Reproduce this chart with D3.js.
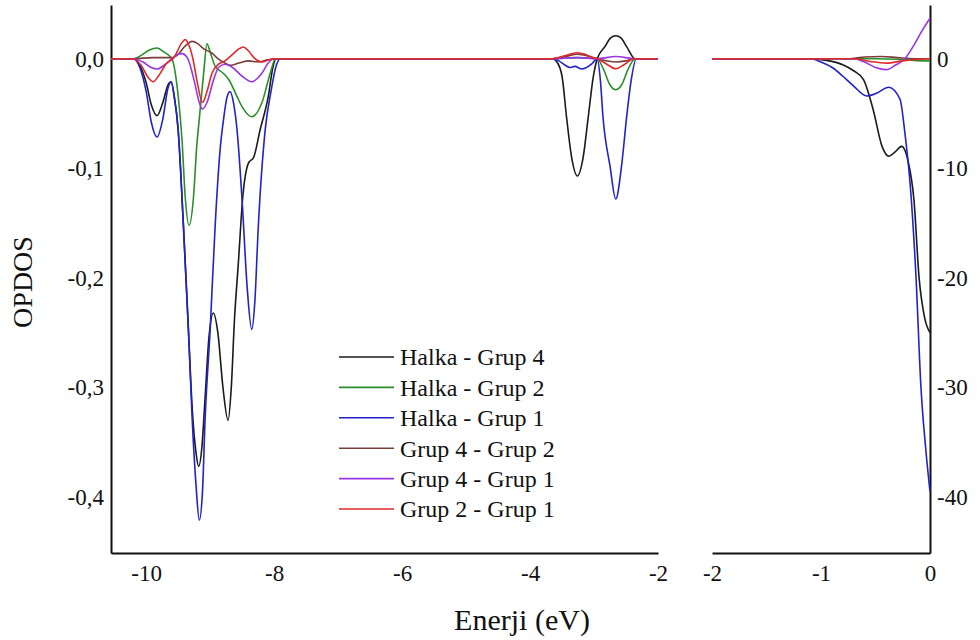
<!DOCTYPE html>
<html>
<head>
<meta charset="utf-8">
<script src="https://cdn.jsdelivr.net/npm/d3@7"></script>
<style>
  body { margin: 0; background: #fff; }
  text { font-family: "Liberation Serif", "Times New Roman", serif; fill: #111; }
</style>
</head>
<body>
<div id="chart"></div>
<script>
// series names and colours (legend order)
var seriesNames = ["Halka - Grup 4", "Halka - Grup 2", "Halka - Grup 1", "Grup 4 - Grup 2", "Grup 4 - Grup 1", "Grup 2 - Grup 1"];
var seriesColors = ["#1a1a1a", "#2a8f2a", "#2222c8", "#7a3e3a", "#9a36e6", "#e02a2a"];

// left panel, [energy eV, OPDOS]
var halkaGrup4Left = [[-10.55,0],[-10.2,0],[-10.1,-0.006],[-10.0,-0.022],[-9.92,-0.042],[-9.83,-0.052],[-9.74,-0.04],[-9.66,-0.024],[-9.61,-0.021],[-9.56,-0.035],[-9.5,-0.065],[-9.42,-0.15],[-9.34,-0.247],[-9.28,-0.32],[-9.22,-0.36],[-9.18,-0.372],[-9.13,-0.355],[-9.08,-0.31],[-9.02,-0.255],[-8.95,-0.232],[-8.88,-0.25],[-8.8,-0.3],[-8.72,-0.330],[-8.67,-0.3],[-8.62,-0.238],[-8.56,-0.187],[-8.49,-0.126],[-8.40,-0.095],[-8.32,-0.09],[-8.22,-0.065],[-8.09,-0.034],[-8.02,-0.008],[-7.97,0],
  [-3.65,0],[-3.58,-0.003],[-3.5,-0.016],[-3.43,-0.053],[-3.35,-0.09],[-3.26,-0.107],[-3.17,-0.09],[-3.09,-0.053],[-3.01,-0.016],[-2.95,0],[-2.83,0.011],[-2.74,0.019],[-2.66,0.021],[-2.58,0.019],[-2.49,0.011],[-2.36,0],[-2.0,0]];
var halkaGrup2Left = [[-10.55,0],[-10.2,0],[-10.08,0.003],[-9.95,0.008],[-9.83,0.0098],[-9.72,0.006],[-9.6,0],[-9.5,-0.034],[-9.44,-0.074],[-9.39,-0.126],[-9.33,-0.152],[-9.26,-0.126],[-9.21,-0.08],[-9.17,-0.055],[-9.1,-0.012],[-9.05,0.0137],[-9.0,0.006],[-8.92,-0.007],[-8.8,-0.013],[-8.71,-0.019],[-8.6,-0.032],[-8.5,-0.044],[-8.35,-0.053],[-8.19,-0.040],[-8.06,-0.013],[-7.98,0],
  [-3.65,0],[-3.3,0.001],[-2.95,0],[-2.85,-0.01],[-2.75,-0.024],[-2.66,-0.0283],[-2.57,-0.024],[-2.47,-0.01],[-2.36,0],[-2.0,0]];
var halkaGrup1Left = [[-10.55,0],[-10.2,0],[-10.1,-0.008],[-10.0,-0.03],[-9.92,-0.058],[-9.83,-0.0715],[-9.74,-0.055],[-9.66,-0.027],[-9.61,-0.021],[-9.56,-0.035],[-9.5,-0.065],[-9.42,-0.15],[-9.34,-0.247],[-9.28,-0.33],[-9.22,-0.39],[-9.17,-0.421],[-9.12,-0.395],[-9.08,-0.33],[-9.0,-0.247],[-8.92,-0.15],[-8.84,-0.08],[-8.79,-0.055],[-8.74,-0.036],[-8.69,-0.030],[-8.63,-0.042],[-8.58,-0.065],[-8.5,-0.13],[-8.42,-0.21],[-8.35,-0.247],[-8.3,-0.22],[-8.25,-0.156],[-8.14,-0.065],[-8.05,-0.03],[-7.96,-0.005],[-7.9,0],
  [-3.65,0],[-3.55,-0.002],[-3.45,-0.006],[-3.375,-0.008],[-3.30,-0.007],[-3.19,-0.0094],[-3.04,-0.005],[-2.95,0],[-2.9,-0.02],[-2.86,-0.053],[-2.75,-0.098],[-2.66,-0.128],[-2.57,-0.098],[-2.49,-0.053],[-2.42,-0.02],[-2.34,0],[-2.0,0]];
var grup4Grup2Left = [[-10.55,0],[-10.2,0],[-9.9,0.001],[-9.6,0.001],[-9.5,0.004],[-9.4,0.011],[-9.28,0.0158],[-9.2,0.014],[-9.1,0.009],[-8.97,0.005],[-8.88,0],[-8.77,-0.004],[-8.68,-0.006],[-8.55,-0.004],[-8.4,-0.002],[-8.25,-0.003],[-8.1,-0.001],[-8.0,0],
  [-3.65,0],[-3.45,0.002],[-3.26,0.004],[-3.07,0.002],[-2.95,0],[-2.8,-0.002],[-2.66,-0.003],[-2.5,-0.002],[-2.36,0],[-2.0,0]];
var grup4Grup1Left = [[-10.55,0],[-10.2,0],[-10.05,-0.003],[-9.92,-0.008],[-9.83,-0.0094],[-9.72,-0.006],[-9.6,0],[-9.5,0.004],[-9.44,0.0046],[-9.35,0],[-9.25,-0.02],[-9.17,-0.04],[-9.12,-0.046],[-9.05,-0.04],[-8.95,-0.02],[-8.87,-0.008],[-8.77,-0.005],[-8.65,-0.008],[-8.5,-0.016],[-8.35,-0.021],[-8.2,-0.014],[-8.08,-0.003],[-8.0,0],
  [-3.65,0],[-3.26,0.001],[-2.95,0],[-2.66,0.002],[-2.36,0],[-2.0,0]];
var grup2Grup1Left = [[-10.55,0],[-10.2,0],[-10.08,-0.006],[-9.97,-0.017],[-9.89,-0.021],[-9.8,-0.015],[-9.68,-0.004],[-9.58,0],[-9.52,0.006],[-9.45,0.014],[-9.39,0.0174],[-9.33,0.012],[-9.27,0],[-9.2,-0.022],[-9.12,-0.040],[-9.05,-0.03],[-8.97,-0.013],[-8.87,-0.005],[-8.77,-0.002],[-8.65,0.004],[-8.55,0.009],[-8.48,0.0107],[-8.4,0.007],[-8.3,0],[-8.19,-0.003],[-8.08,-0.001],[-8.0,0],
  [-3.65,0],[-3.5,0.002],[-3.38,0.004],[-3.26,0.0055],[-3.14,0.004],[-3.02,0.001],[-2.95,0],[-2.8,-0.005],[-2.66,-0.0092],[-2.52,-0.005],[-2.38,0],[-2.0,0]];

// right panel, [energy eV, OPDOS x100]
var halkaGrup4Right = [[-2,0],[-1.1,0],[-0.95,-0.15],[-0.8,-0.55],[-0.7,-1.1],[-0.61,-1.9],[-0.52,-4.7],[-0.44,-8.0],[-0.376,-8.9],[-0.32,-8.5],[-0.26,-8.0],[-0.2,-9.4],[-0.147,-12.9],[-0.1,-20.0],[-0.05,-23.6],[0,-25.0]];
var halkaGrup2Right = [[-2,0],[-0.5,0],[-0.3,-0.05],[-0.15,-0.15],[0,-0.2]];
var halkaGrup1Right = [[-2,0],[-1.1,0],[-1.0,-0.3],[-0.89,-0.85],[-0.8,-1.6],[-0.70,-2.5],[-0.58,-3.4],[-0.48,-3.1],[-0.38,-2.6],[-0.275,-3.7],[-0.23,-6.8],[-0.18,-11.7],[-0.128,-20.0],[-0.083,-30.0],[-0.04,-35.5],[0,-39.5]];
var grup4Grup2Right = [[-2,0],[-0.75,0],[-0.6,0.15],[-0.45,0.2],[-0.3,0.1],[-0.15,0],[0,0]];
var grup4Grup1Right = [[-2,0],[-0.7,0],[-0.6,-0.3],[-0.5,-0.8],[-0.4,-1.0],[-0.32,-0.6],[-0.23,0],[-0.15,1.2],[-0.07,2.6],[0,3.7]];
var grup2Grup1Right = [[-2,0],[-0.7,0],[-0.55,-0.25],[-0.4,-0.4],[-0.25,-0.2],[-0.1,-0.05],[0,0]];

// tick labels
var leftXTicks = [-10, -8, -6, -4, -2];
var rightXTicks = [-2, -1, 0];
var leftYTicks = [0, -0.1, -0.2, -0.3, -0.4];
var rightYTicks = [0, -10, -20, -30, -40];

var leftSeries = [halkaGrup4Left, halkaGrup2Left, halkaGrup1Left, grup4Grup2Left, grup4Grup1Left, grup2Grup1Left];
var rightSeries = [halkaGrup4Right, halkaGrup2Right, halkaGrup1Right, grup4Grup2Right, grup4Grup1Right, grup2Grup1Right];

var svgWidth = 980, svgHeight = 640;
var plotTop = 5, plotBottom = 553;

var svg = d3.select("#chart").append("svg")
  .attr("width", svgWidth)
  .attr("height", svgHeight);

// comma decimal, plain hyphen minus
var trLocale = d3.formatLocale({decimal: ",", thousands: ".", grouping: [3], currency: ["", ""], minus: "-"});
var fmt1 = trLocale.format(".1f");
var fmt0 = trLocale.format("d");

// scales
var xLeft = d3.scaleLinear().domain([-10.55, -2]).range([111, 658]);
var xRight = d3.scaleLinear().domain([-2, 0]).range([712, 930]);
var yLeft = d3.scaleLinear().domain([-0.451, 0.049]).range([plotBottom, plotTop]);
var yRight = d3.scaleLinear().domain([-45.1, 4.9]).range([plotBottom, plotTop]);

function styleAxis(g, size) {
  g.select(".domain").attr("stroke", "#111").attr("stroke-width", 2);
  g.selectAll("text").attr("font-size", size).attr("fill", "#111");
}

// axes
svg.append("g")
  .attr("transform", `translate(0, ${plotBottom})`)
  .call(d3.axisBottom(xLeft).tickValues(leftXTicks).tickSize(0).tickPadding(12).tickFormat(fmt0))
  .call(g => styleAxis(g, "23px"));

svg.append("g")
  .attr("transform", `translate(0, ${plotBottom})`)
  .call(d3.axisBottom(xRight).tickValues(rightXTicks).tickSize(0).tickPadding(12).tickFormat(fmt0))
  .call(g => styleAxis(g, "23px"));

svg.append("g")
  .attr("transform", "translate(111, 0)")
  .call(d3.axisLeft(yLeft).tickValues(leftYTicks).tickSize(0).tickPadding(7).tickFormat(fmt1))
  .call(g => styleAxis(g, "23px"));

svg.append("g")
  .attr("transform", "translate(930, 0)")
  .call(d3.axisRight(yRight).tickValues(rightYTicks).tickSize(0).tickPadding(7).tickFormat(fmt0))
  .call(g => styleAxis(g, "23px"));

// curves
var lineLeft = d3.line()
  .x(d => xLeft(d[0]))
  .y(d => yLeft(d[1]))
  .curve(d3.curveMonotoneX);

var lineRight = d3.line()
  .x(d => xRight(d[0]))
  .y(d => yRight(d[1]))
  .curve(d3.curveMonotoneX);

leftSeries.forEach(function(s, i) {
  svg.append("path")
    .datum(s)
    .attr("d", lineLeft)
    .attr("fill", "none")
    .attr("stroke", seriesColors[i])
    .attr("stroke-width", 1.6);
});

rightSeries.forEach(function(s, i) {
  svg.append("path")
    .datum(s)
    .attr("d", lineRight)
    .attr("fill", "none")
    .attr("stroke", seriesColors[i])
    .attr("stroke-width", 1.6);
});

// legend
var legend = svg.append("g");
seriesNames.forEach(function(name, i) {
  var ly = 357 + i * 30.4;
  legend.append("line")
    .attr("x1", 339).attr("x2", 394)
    .attr("y1", ly).attr("y2", ly)
    .attr("stroke", seriesColors[i])
    .attr("stroke-width", 1.6);
  legend.append("text")
    .attr("x", 400)
    .attr("y", ly)
    .attr("dy", "0.35em")
    .attr("font-size", "24px")
    .text(name);
});

// axis titles
svg.append("text")
  .attr("x", 522)
  .attr("y", 630)
  .attr("text-anchor", "middle")
  .attr("font-size", "30px")
  .text("Enerji (eV)");

svg.append("text")
  .attr("transform", "translate(32, 282) rotate(-90)")
  .attr("text-anchor", "middle")
  .attr("font-size", "28px")
  .text("OPDOS");
</script>
</body>
</html>
